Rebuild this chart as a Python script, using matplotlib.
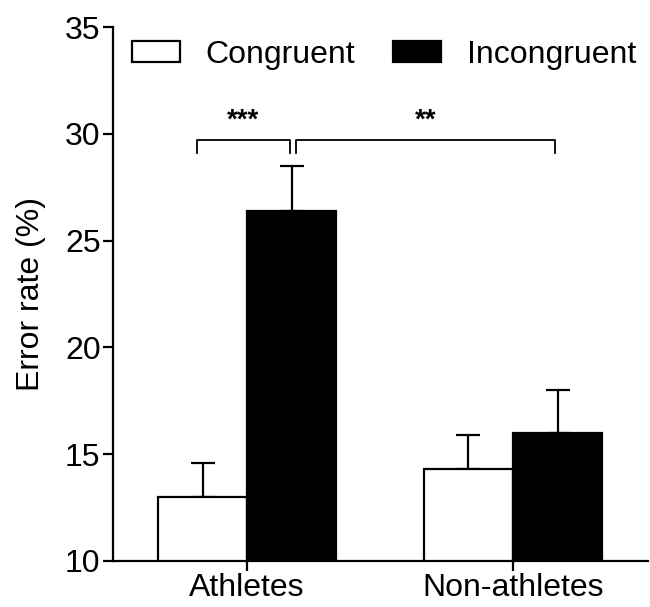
import matplotlib.pyplot as plt
import numpy as np

plt.rcParams['font.family'] = ['Liberation Sans', 'DejaVu Sans']
plt.rcParams['font.size'] = 23

groups = ['Athletes', 'Non-athletes']
conditions = ['Congruent', 'Incongruent']
means = {'Congruent': [13.0, 14.3], 'Incongruent': [26.4, 16.0]}
sem = {'Congruent': [1.6, 1.6], 'Incongruent': [2.1, 2.0]}
colors = {'Congruent': 'white', 'Incongruent': 'black'}

fig = plt.figure(figsize=(6.5, 6.07), dpi=100)
ax = fig.add_axes([0.174, 0.0758, 0.823, 0.8797])

x = np.arange(len(groups))
w = 0.335
for i, cond in enumerate(conditions):
    pos = x + (i - 0.5) * w
    vals = np.array(means[cond])
    ax.bar(pos, vals - 10, bottom=10, width=w, color=colors[cond],
           edgecolor='black', linewidth=1.6, label=cond, zorder=3)
    ax.errorbar(pos, vals, yerr=[np.zeros(len(vals)), sem[cond]], fmt='none',
                ecolor='black', elinewidth=1.6, capsize=8.8, capthick=1.6, zorder=2)

# significance brackets
def bracket(x1, x2, y, h, text):
    ax.plot([x1, x1, x2, x2], [y - h, y, y, y - h], color='black', lw=1.3,
            clip_on=False)
    ax.text((x1 + x2) / 2, y + 0.3, text, ha='center', va='bottom',
            fontsize=20, fontweight='bold')

bracket(-0.19, 0.162, 29.7, 0.6, '***')
bracket(0.184, 1.158, 29.7, 0.6, '**')

ax.set_xlim(-0.504, 1.508)
ax.set_ylim(10, 35)
ax.set_yticks([10, 15, 20, 25, 30, 35])
ax.set_xticks(x)
ax.set_xticklabels(groups)
ax.set_ylabel('Error rate (%)', labelpad=14)
ax.spines['top'].set_visible(False)
ax.spines['right'].set_visible(False)
for s in ['left', 'bottom']:
    ax.spines[s].set_linewidth(1.6)
ax.tick_params(width=1.6, length=7, pad=2)

ax.legend(loc='upper left', bbox_to_anchor=(0.035, 0.976), ncol=2, frameon=False,
          handlelength=1.5, handleheight=0.6, handletextpad=0.8,
          columnspacing=1.2, borderpad=0, borderaxespad=0)

fig.savefig('out.png', dpi=100)
